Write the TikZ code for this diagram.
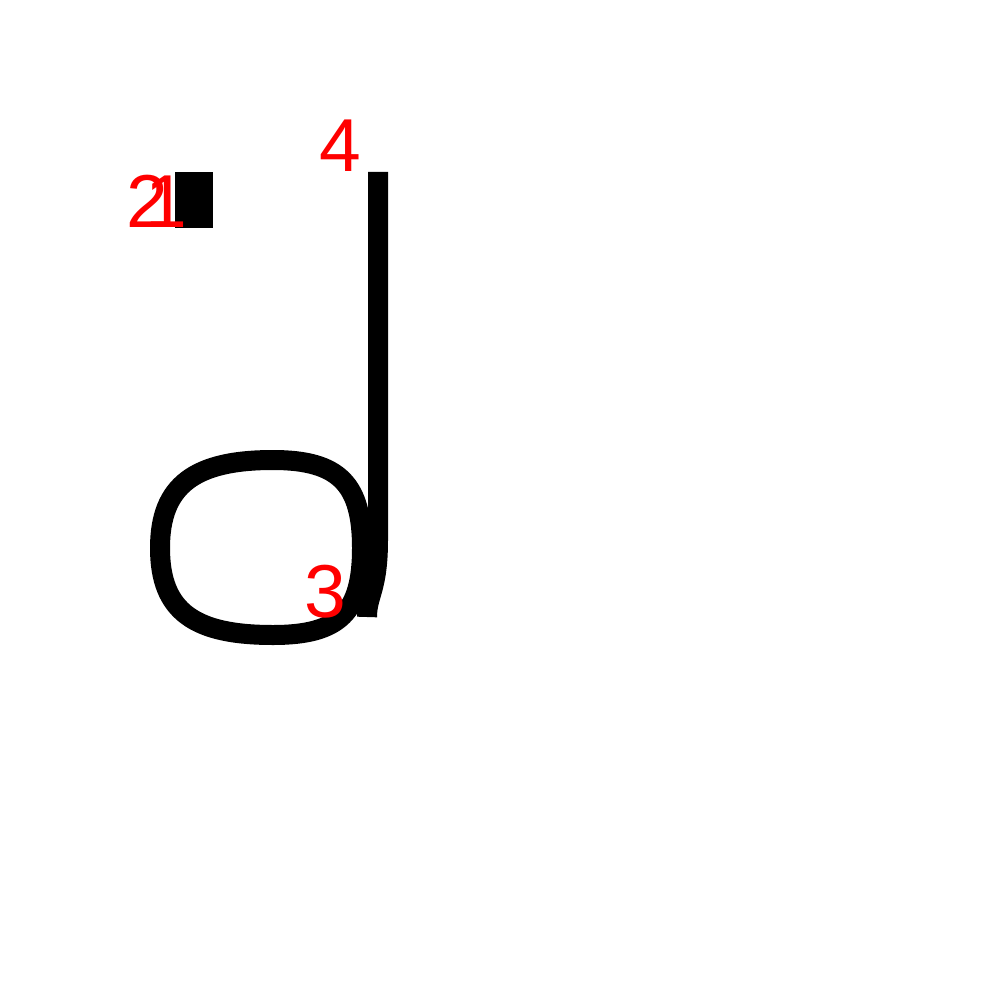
\documentclass[tikz,border=0pt]{standalone}
\usepackage{fontspec}
\setmainfont{Liberation Sans}
\begin{document}
\begin{tikzpicture}[x=1pt,y=-1pt,
  stroke/.style={draw=black,line width=20pt,line cap=butt,line join=round},
  lbl/.style={text=red,inner sep=0pt,outer sep=0pt,anchor=base,font=\fontsize{75}{75}\selectfont}]
\useasboundingbox[fill=white] (0,0) rectangle (1000,1000);
% dot
\fill[black] (175,172) rectangle (213,228);
% loop
\draw[stroke] (273,460) .. controls (195,460) and (160,485) .. (160,548)
  .. controls (160,612) and (195,635) .. (273,635)
  .. controls (340,635) and (362,612) .. (362,548)
  .. controls (362,485) and (340,460) .. cycle;
% stem
\coordinate (top) at (378,172);
\coordinate (mid) at (378,540);
\coordinate (bot) at (367,617);
\draw[stroke] (top) -- (mid) .. controls (378,590) and (367,595) .. (bot);
% labels
\node[lbl] (n2) at (147,228) {2};
\node[lbl] (n1) at (166,228) {1};
\node[lbl] (n4) at (340,172) {4};
\node[lbl] (n3) at (325,617) {3};
\end{tikzpicture}
\end{document}
